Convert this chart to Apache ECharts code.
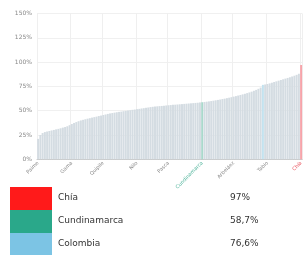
<!DOCTYPE html>
<html>
<head>
<meta charset="utf-8">
<script src="https://cdn.jsdelivr.net/npm/echarts@6/dist/echarts.min.js"></script>
<style>
html,body{margin:0;padding:0;background:#fff;}
#c{width:305px;height:255px;}
</style>
</head>
<body>
<div id="c"></div>
<script>
// categories sorted by value (ascending)
const categories = [
"Paime","Topaipí","Yacopí","Caparrapí","Medina","Paratebueno","Guayabetal","Quebradanegra","Vianí","Chaguaní","Pulí","Beltrán","Jerusalén","Guataquí","El Peñón",
"Gama","Útica","Nimaima","Vergara","La Peña","Bituima","San Cayetano","Gutiérrez","Junín","Tibirita","Ubalá","Gachalá","Fosca","Guayabal de Síquima",
"Quipile","San Juan de Rioseco","Pandi","Cabrera","Venecia","Manta","Villagómez","Albán","Supatá","Nocaima","La Palma","Quetame","Une","Pacho","Tibacuy",
"Nilo","Apulo","Viotá","Anolaima","Cachipay","Sasaima","Zipacón","San Francisco","Fómeque","Ubaque","Chipaque","Choachí","Cáqueza","Gachetá",
"Pasca","Granada","Machetá","Cucunubá","Lenguazaque","Guachetá","Susa","Fúquene","Simijaca","Carmen de Carupa","Tausa","Sutatausa","Villapinzón","Chocontá","Suesca",
"Cundinamarca",
"Guatavita","Guasca","Nemocón","Cogua","Subachoque","Bojacá","El Colegio","La Mesa","Anapoima","Tocaima","Agua de Dios","Ricaurte","San Bernardo","Arbeláez",
"Silvania","Tena","San Antonio del Tequendama","La Vega","Villeta","Guaduas","Puerto Salgar","Sesquilé","Nariño","Ubaté","Sibaté","Gachancipá",
"Colombia",
"El Rosal","Tabio","La Calera","Fusagasugá","Girardot","Soacha","Facatativá","Tocancipá","Tenjo","Madrid","Mosquera","Funza","Sopó","Zipaquirá","Cota","Cajicá",
"Chía"
];
const values = [
21,25,27,28,28.6,29.1,29.7,30.2,30.8,31.3,31.9,32.6,33.2,
34.0,35.1,36.3,37.4,38.3,39.2,40.0,
40.6,41.2,41.8,42.3,42.9,43.4,43.9,44.5,45.0,45.6,46.1,46.7,47.2,
47.6,48.0,48.4,48.8,49.1,49.5,49.8,50.2,50.5,50.9,51.2,51.6,51.9,52.3,52.6,53.0,53.3,53.7,
54.0,54.2,54.5,54.7,54.9,55.2,55.4,55.6,55.8,56.0,56.2,56.4,56.6,56.8,57.0,57.2,57.4,57.6,57.8,58.0,58.2,58.5,
58.7,
59.0,59.3,59.6,59.9,60.3,60.7,61.1,61.5,62.0,62.4,62.9,63.4,63.9,64.5,65.0,65.6,66.2,66.8,67.4,68.1,68.8,69.6,70.5,71.4,72.5,73.8,
76.6,
77.0,77.5,78.1,78.8,79.5,80.2,80.9,81.6,82.3,83.0,83.7,84.4,85.2,86.0,86.9,88.0,
97
];
const yTicks = [0,25,50,75,100,125,150];
const labelIndices = [0,15,29,44,58,73,87,102,117];
const legendNames = ["Chía","Cundinamarca","Colombia"];
const legendValues = ["97%","58,7%","76,6%"];

const highlightColor = {"Chía":"#f7a4aa","Cundinamarca":"#a9d9cc","Colombia":"#c3e2ef"};
const labelColor = {"Chía":"#e8505a","Cundinamarca":"#4fb39a"};
const legendColors = ["#ff1a1a","#2aa88a","#7cc4e4"];

const chart = echarts.init(document.getElementById('c'), null, {renderer:'canvas'});

const xData = categories.map(n => labelColor[n] ? {value:n, textStyle:{color:labelColor[n]}} : n);
const barData = categories.map((n,i) => ({
  value: values[i],
  itemStyle: {color: highlightColor[n] || '#d4dce2'}
}));

const graphics = [];
const rowY = [187,210,233];
legendNames.forEach((n,i) => {
  graphics.push({type:'rect', left:10, top:rowY[i], shape:{width:42,height:23}, style:{fill:legendColors[i]}});
  graphics.push({type:'text', left:58, top:rowY[i]+6, style:{text:n, fill:'#333', font:'9px "DejaVu Sans", sans-serif'}});
  graphics.push({type:'text', left:230, top:rowY[i]+6, style:{text:legendValues[i], fill:'#333', font:'9px "DejaVu Sans", sans-serif'}});
});

chart.setOption({
  animation:false,
  grid:{left:37, right:1, top:13.5, bottom:95.7, containLabel:false},
  xAxis:{
    type:'category',
    data:xData,
    axisLine:{lineStyle:{color:'#c8c8c8'}},
    axisTick:{show:false},
    axisLabel:{
      interval:(idx)=>labelIndices.indexOf(idx)>=0,
      rotate:45, fontSize:5, color:'#888', margin:3,
      fontFamily:'DejaVu Sans'
    },
    splitLine:{show:true, interval:(idx)=>labelIndices.indexOf(idx)>=0, lineStyle:{color:'#efefef'}}
  },
  yAxis:{
    type:'value', min:yTicks[0], max:yTicks[yTicks.length-1], interval:25,
    axisLabel:{formatter:'{value}%', fontSize:6, color:'#888', margin:5, fontFamily:'DejaVu Sans'},
    axisLine:{show:false}, axisTick:{show:false},
    splitLine:{lineStyle:{color:'#f0f0f0'}}
  },
  series:[{type:'bar', data:barData, barCategoryGap:'12%'}],
  graphic:graphics
});
</script>
</body>
</html>
